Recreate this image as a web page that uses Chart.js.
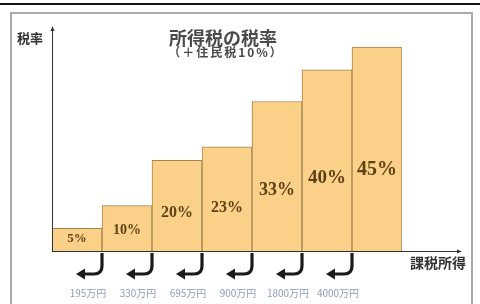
<!DOCTYPE html>
<html lang="ja">
<head>
<meta charset="utf-8">
<title>所得税の税率</title>
<script src="https://cdn.jsdelivr.net/npm/chart.js@4.4.1/dist/chart.umd.min.js"></script>
<style>
  html, body { margin: 0; padding: 0; background: #fff; }
  #wrap { width: 480px; height: 304px; position: relative; }
</style>
</head>
<body>
<div id="wrap"><canvas id="taxChart" width="480" height="304"></canvas></div>
<script>
// 税率（所得税）と課税所得の区切り
const categories = ['5%', '10%', '20%', '23%', '33%', '40%', '45%'];
const taxRates = [5, 10, 20, 23, 33, 40, 45];
const bracketLimits = ['195万円', '330万円', '695万円', '900万円', '1800万円', '4000万円'];
const yAxisMax = 49;

const titleText = '所得税の税率';
const subtitleText = '（＋住民税10%）';
const yAxisTitle = '税率';
const xAxisTitle = '課税所得';

// 枠・軸・ラベル・矢印を描くプラグイン
const decorPlugin = {
    id: 'decor',
    beforeDraw(chart) {
        const c = chart.ctx;
        c.save();
        c.fillStyle = '#fff';
        c.fillRect(0, 0, chart.width, chart.height);
        // 上の黒線
        c.fillStyle = '#111';
        c.fillRect(0, 3, chart.width, 2);
        // 灰色の枠
        c.strokeStyle = '#a9a9a9';
        c.lineWidth = 2;
        c.strokeRect(11, 13, 461, 330);
        c.restore();
    },
    afterDatasetsDraw(chart) {
        const c = chart.ctx;
        const area = chart.chartArea;
        const x = chart.scales.x;
        const y = chart.scales.y;
        const base = y.getPixelForValue(0);
        const axisEnd = area.right + 56;

        c.save();
        // 軸
        c.strokeStyle = '#333';
        c.fillStyle = '#333';
        c.lineWidth = 1;
        c.beginPath();
        c.moveTo(area.left + 0.5, base);
        c.lineTo(area.left + 0.5, area.top);
        c.moveTo(area.left, base + 0.5);
        c.lineTo(axisEnd, base + 0.5);
        c.stroke();
        c.beginPath();
        c.moveTo(area.left + 0.5, area.top - 3);
        c.lineTo(area.left - 1.5, area.top + 2);
        c.lineTo(area.left + 2.5, area.top + 2);
        c.fill();
        c.beginPath();
        c.moveTo(axisEnd + 4, base + 0.5);
        c.lineTo(axisEnd - 1, base - 1.5);
        c.lineTo(axisEnd - 1, base + 2.5);
        c.fill();

        // 棒の中の税率
        c.textAlign = 'center';
        c.textBaseline = 'middle';
        c.fillStyle = '#5e4116';
        taxRates.forEach((v, i) => {
            const size = Math.round(12.5 + v * 0.17);
            c.font = 'bold ' + size + 'px "Liberation Serif", "DejaVu Serif", serif';
            c.fillText(categories[i], x.getPixelForValue(i), y.getPixelForValue(0.38 * v + 0.8));
        });

        // 区切りの矢印と金額
        bracketLimits.forEach((label, i) => {
            const bx = x.getPixelForValue(i + 0.5);
            c.strokeStyle = '#1b1b1b';
            c.fillStyle = '#1b1b1b';
            c.lineWidth = 3.2;
            c.beginPath();
            c.moveTo(bx, base + 2);
            c.lineTo(bx, base + 15);
            c.quadraticCurveTo(bx, base + 23, bx - 8, base + 23);
            c.lineTo(bx - 18, base + 23);
            c.stroke();
            c.beginPath();
            c.moveTo(bx - 26, base + 23);
            c.lineTo(bx - 17, base + 17.5);
            c.lineTo(bx - 17, base + 28.5);
            c.closePath();
            c.fill();

            c.fillStyle = '#8e9cc2';
            c.font = '10px "Noto Sans CJK JP", sans-serif';
            c.fillText(label, bx - 14, base + 42);
        });

        // タイトルと軸名
        c.fillStyle = '#4a4a4a';
        c.font = 'bold 18px "Noto Sans CJK JP", sans-serif';
        c.fillText(titleText, 223, 38);
        c.font = 'bold 12px "Noto Sans CJK JP", sans-serif';
        c.letterSpacing = '2px';
        c.fillText(subtitleText, 226, 52);
        c.letterSpacing = '0px';
        c.fillStyle = '#333';
        c.font = 'bold 13px "Noto Sans CJK JP", sans-serif';
        c.fillText(yAxisTitle, 30, 38);
        c.font = 'bold 14px "Noto Sans CJK JP", sans-serif';
        c.fillText(xAxisTitle, 438, 263);
        c.restore();
    }
};

const ctx = document.getElementById('taxChart').getContext('2d');
new Chart(ctx, {
    type: 'bar',
    data: {
        labels: categories,
        datasets: [{
            data: taxRates,
            backgroundColor: '#fbd088',
            borderColor: '#a2834f',
            borderWidth: 1,
            barPercentage: 1,
            categoryPercentage: 1
        }]
    },
    options: {
        responsive: false,
        animation: false,
        layout: {
            padding: { left: 52, right: 78, top: 29, bottom: 53 }
        },
        scales: {
            x: { display: false },
            y: { display: false, min: 0, max: yAxisMax }
        },
        plugins: {
            legend: { display: false },
            tooltip: { enabled: false }
        }
    },
    plugins: [decorPlugin]
});
</script>
</body>
</html>
